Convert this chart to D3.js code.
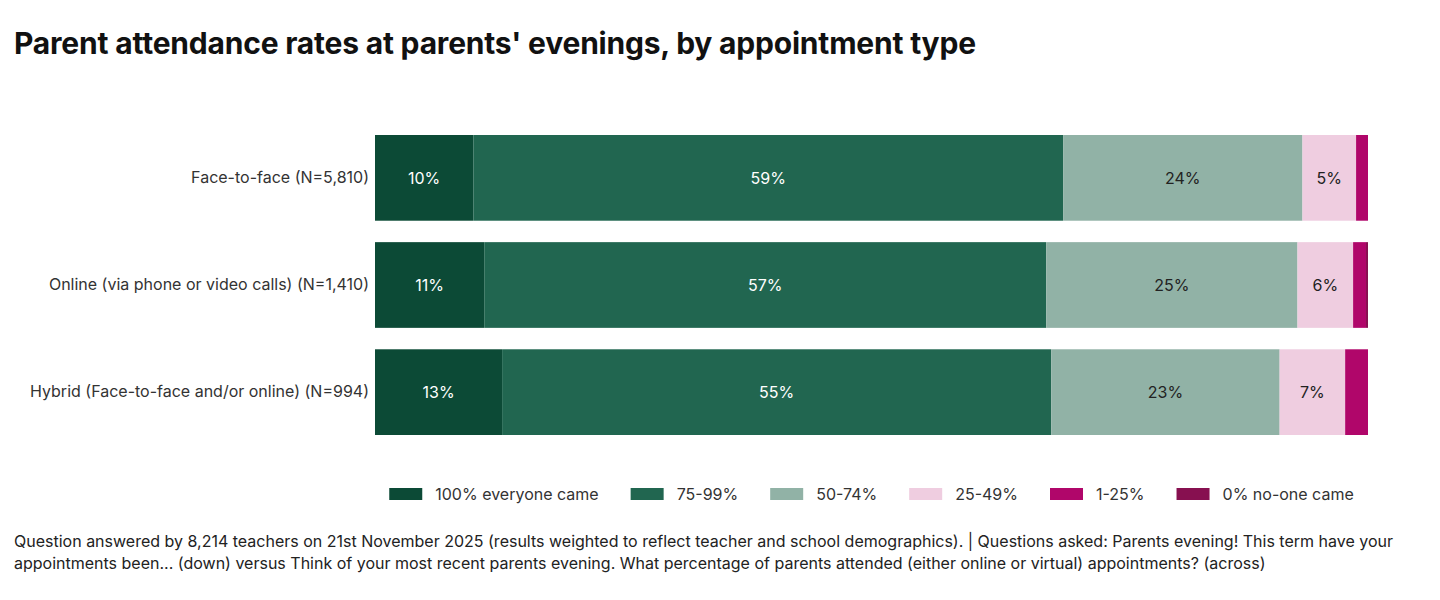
<!DOCTYPE html>
<html><head><meta charset="utf-8">
<script src="https://cdn.jsdelivr.net/npm/d3@7"></script>
<style>body{margin:0;background:#fff;} svg{display:block;font-family:Inter,"Noto Sans",sans-serif;}</style>
</head><body>
<svg id="c" width="1440" height="600"></svg>
<script>
const categories = ["Face-to-face (N=5,810)", "Online (via phone or video calls) (N=1,410)", "Hybrid (Face-to-face and/or online) (N=994)"];
const seriesNames = ["100% everyone came", "75-99%", "50-74%", "25-49%", "1-25%", "0% no-one came"];
const s100 = [9.9, 11.0, 12.8];
const s75 = [59.4, 56.6, 55.3];
const s50 = [24.1, 25.3, 23.0];
const s25 = [5.4, 5.6, 6.6];
const s1 = [1.2, 1.3, 2.3];
const s0 = [0.0, 0.2, 0.0];
const colors = ["#0c4a36", "#216650", "#91b2a6", "#efcde0", "#b0066a", "#871050"];
const labelColors = ["#fff", "#fff", "#222", "#222", "#fff", "#fff"];
const title = "Parent attendance rates at parents' evenings, by appointment type";
const footnote = ["Question answered by 8,214 teachers on 21st November 2025 (results weighted to reflect teacher and school demographics). | Questions asked: Parents evening! This term have your",
"appointments been... (down) versus Think of your most recent parents evening. What percentage of parents attended (either online or virtual) appointments? (across)"];

const series = [s100, s75, s50, s25, s1, s0];
const rows = categories.map((c, i) => {
  const o = {cat: c};
  seriesNames.forEach((n, k) => o[n] = series[k][i]);
  return o;
});
const stacked = d3.stack().keys(seriesNames)(rows);

const svg = d3.select("#c");
const x = d3.scaleLinear().domain([0, 100]).range([375, 1368]);
const y = d3.scaleBand().domain(categories).range([135, 435]).paddingInner(0.2).paddingOuter(0);

svg.append("text").attr("x", 14).attr("y", 54).attr("font-size", 30).attr("font-weight", 700)
  .attr("fill", "#111").attr("letter-spacing", -0.2).text(title);

const g = svg.append("g");
stacked.forEach((layer, k) => {
  const lg = g.append("g");
  lg.selectAll("rect").data(layer).join("rect")
    .attr("x", d => x(d[0])).attr("width", d => x(d[1]) - x(d[0]))
    .attr("y", d => y(d.data.cat)).attr("height", y.bandwidth())
    .attr("fill", colors[k]);
  lg.selectAll("text").data(layer.filter(d => d[1] - d[0] >= 3.5)).join("text")
    .attr("x", d => (x(d[0]) + x(d[1])) / 2).attr("y", d => y(d.data.cat) + y.bandwidth() / 2)
    .attr("text-anchor", "middle").attr("dominant-baseline", "central")
    .attr("font-size", 16).attr("fill", labelColors[k])
    .text(d => Math.round(d[1] - d[0]) + "%");
});

const yAxis = svg.append("g").attr("transform", "translate(375,0)")
  .call(d3.axisLeft(y).tickSize(0).tickPadding(6));
yAxis.select(".domain").remove();
yAxis.selectAll("text").attr("font-size", 16).attr("fill", "#333").attr("font-family", "Inter,'Noto Sans',sans-serif");

// legend
const leg = svg.append("g");
const items = leg.selectAll("g").data(seriesNames).join("g");
items.append("rect").attr("width", 33).attr("height", 12).attr("y", -6).attr("fill", (d, i) => colors[i]);
items.append("text").attr("x", 46).attr("dominant-baseline", "central").attr("font-size", 16)
  .attr("fill", "#333").text(d => d);
let cx = 0;
const pos = [];
items.each(function(d) {
  const w = 46 + this.querySelector("text").getComputedTextLength();
  pos.push(cx); cx += w + 32;
});
const totalW = cx - 32;
const start = (x.range()[0] + x.range()[1]) / 2 - totalW / 2;
items.attr("transform", (d, i) => `translate(${start + pos[i]},494)`);

svg.append("g").selectAll("text").data(footnote).join("text")
  .attr("x", 14).attr("y", (d, i) => 547 + i * 22).attr("font-size", 16).attr("fill", "#222").text(d => d);
</script>
</body></html>
